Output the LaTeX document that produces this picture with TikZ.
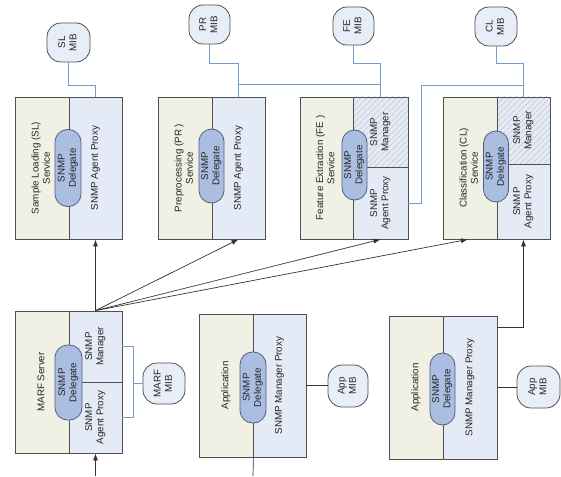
\documentclass[tikz,border=0pt]{standalone}
\usepackage{fontspec}
\setmainfont{Liberation Sans}
\usepackage{graphicx}
\usetikzlibrary{arrows.meta,patterns.meta}
\definecolor{beige}{RGB}{240,240,229}
\definecolor{rblue}{RGB}{228,234,246}
\definecolor{pillc}{RGB}{170,190,225}
\definecolor{pillb}{RGB}{85,95,115}
\definecolor{mibc}{RGB}{232,238,248}
\definecolor{bline}{RGB}{120,155,205}
\definecolor{bord}{RGB}{80,80,80}
\newcommand{\rt}[1]{\rotatebox{90}{\begin{tabular}{@{}c@{}}#1\end{tabular}}}
\begin{document}
\begin{tikzpicture}[x=1pt,y=-1pt,
  every node/.style={font=\fontsize{9.8}{11.3}\selectfont, text=black!85, inner sep=0pt},
  lbox/.style={draw=bord, line width=0.8pt, fill=beige, minimum width=#1},
  rbox/.style={draw=bord, line width=0.8pt, fill=rblue, minimum width=#1},
  hbox/.style={draw=bord, line width=0.8pt, preaction={fill=rblue}, pattern={Lines[angle=45,distance=4pt,line width=0.5pt]}, pattern color=gray!55, minimum width=#1},
  pill/.style={draw=pillb, line width=0.8pt, fill=pillc, rounded corners=12.5pt, minimum width=25, minimum height=#1},
  mib/.style={draw=bord, line width=0.8pt, fill=mibc, rounded corners=14pt},
  bl/.style={draw=bline, line width=0.8pt},
  kl/.style={draw=black!80, line width=0.7pt},
  arr/.style={kl, -{Latex[length=7pt,width=5pt]}}
]
\useasboundingbox (0,0) rectangle (561,476);

% ---------- SL ----------
\node[lbox=54, minimum height=142] (sll) at (42,168) {\rt{Sample Loading (SL)\\Service}};
\node[rbox=53, minimum height=142] (slr) at (95.5,168) {\rt{SNMP Agent Proxy}};
\node[pill=77, minimum width=26] (slp) at (68,168) {\rt{SNMP\\Delegate}};
\node[mib, minimum width=43, minimum height=39] (slm) at (68.5,42.5) {\rt{SL\\MIB}};

% ---------- PR ----------
\node[lbox=54, minimum height=142] (prl) at (185,168) {\rt{Preprocessing (PR )\\Service}};
\node[rbox=53, minimum height=142] (prr) at (238.5,168) {\rt{SNMP Agent Proxy}};
\node[pill=74] (prp) at (211.5,166) {\rt{SNMP\\Delegate}};
\node[mib, minimum width=41, minimum height=39] (prm) at (209.5,24.5) {\rt{PR\\MIB}};

% ---------- FE ----------
\node[lbox=53, minimum height=142] (fel) at (326.5,168) {\rt{Feature Extraction (FE )\\Service}};
\node[hbox=55, minimum height=70] (fert) at (380.5,132) {\rt{SNMP\\Manager}};
\node[rbox=55, minimum height=72] (ferb) at (380.5,203) {\rt{SNMP\\Agent Proxy}};
\node[pill=70] (fep) at (354.5,165) {\rt{SNMP\\Delegate}};
\node[mib, minimum width=41, minimum height=38] (fem) at (353.5,26) {\rt{FE\\MIB}};

% ---------- CL ----------
\node[lbox=54, minimum height=142] (cll) at (470,168) {\rt{Classification (CL)\\Service}};
\node[hbox=53, minimum height=67] (clrt) at (523.5,130.5) {\rt{SNMP\\Manager}};
\node[rbox=53, minimum height=75] (clrb) at (523.5,201.5) {\rt{SNMP\\Agent Proxy}};
\node[pill=71] (clp) at (496,166.5) {\rt{SNMP\\Delegate}};
\node[mib, minimum width=42, minimum height=39] (clm) at (496,26.5) {\rt{CL\\MIB}};

% ---------- MARF ----------
\node[lbox=54, minimum height=142] (mal) at (42,382) {\rt{MARF Server}};
\node[rbox=53, minimum height=71] (mart) at (95.5,346.5) {\rt{SNMP\\Manager}};
\node[rbox=53, minimum height=71] (marb) at (95.5,417.5) {\rt{SNMP\\Agent Proxy}};
\node[pill=75, minimum width=27] (map) at (68.5,382.5) {\rt{SNMP\\Delegate}};
\node[mib, minimum width=42, minimum height=41] (mam) at (164,383.5) {\rt{MARF\\MIB}};

% ---------- App 1 ----------
\node[lbox=54, minimum height=143] (a1l) at (226,385.5) {\rt{Application}};
\node[rbox=53, minimum height=143] (a1r) at (279.5,385.5) {\rt{SNMP Manager Proxy}};
\node[pill=71, minimum width=26] (a1p) at (253,387.5) {\rt{SNMP\\Delegate}};
\node[mib, minimum width=40, minimum height=42] (a1m) at (348,386) {\rt{App\\MIB}};

% ---------- App 2 ----------
\node[lbox=54, minimum height=143] (a2l) at (416,387.5) {\rt{Application}};
\node[rbox=54, minimum height=143] (a2r) at (470,387.5) {\rt{SNMP Manager Proxy}};
\node[pill=72] (a2p) at (442.5,389) {\rt{SNMP\\Delegate}};
\node[mib, minimum width=43, minimum height=42] (a2m) at (538.5,387) {\rt{App\\MIB}};

% ---------- blue MIB links ----------
\draw[bl] (slm.south) -- ++(0,23) -| (slr.north);
\draw[bl] (prm.south) -- ++(0,19) -| (prr.north);
\draw[bl] (fem.south) -- ++(0,18) -| (fert.north);
\draw[bl] (clm.south) -- ++(0,17) -| (clrt.north);
\coordinate (prj) at (238.5,84);
\coordinate (fej) at (380.5,84);
\draw[bl] (prj) -- (fej);
\coordinate (clj) at (523.5,85);
\coordinate (clk) at (421,85);
\draw[bl] (clj) -- (clk) |- (ferb.east);
\draw[bl] (mart.east) -- ++(11,0) |- (marb.east);
\draw[bl] (mam.west) -- ++(-10,0);

% ---------- black links ----------
\draw[kl] (a1r.east) -- (a1r.east -| a1m.west);
\draw[kl] (a2r.east) -- (a2r.east -| a2m.west);
\coordinate (a2out) at (497,327);
\draw[arr] (a2out) -| (clrb.south);
\coordinate (a1end) at (253,476);
\draw[kl] (a1l.south east) -- (a1end);
\coordinate (mbot) at (95.5,476);
\draw[arr] (mbot) -- (marb.south);
\draw[arr] (mart.north) -- (slr.south);
\draw[arr] (mart.north) -- (prr.south);
\draw[arr] (mart.north) -- (ferb.south);
\draw[arr] (mart.north) -- ([xshift=-2pt]cll.south);
\end{tikzpicture}
\end{document}
